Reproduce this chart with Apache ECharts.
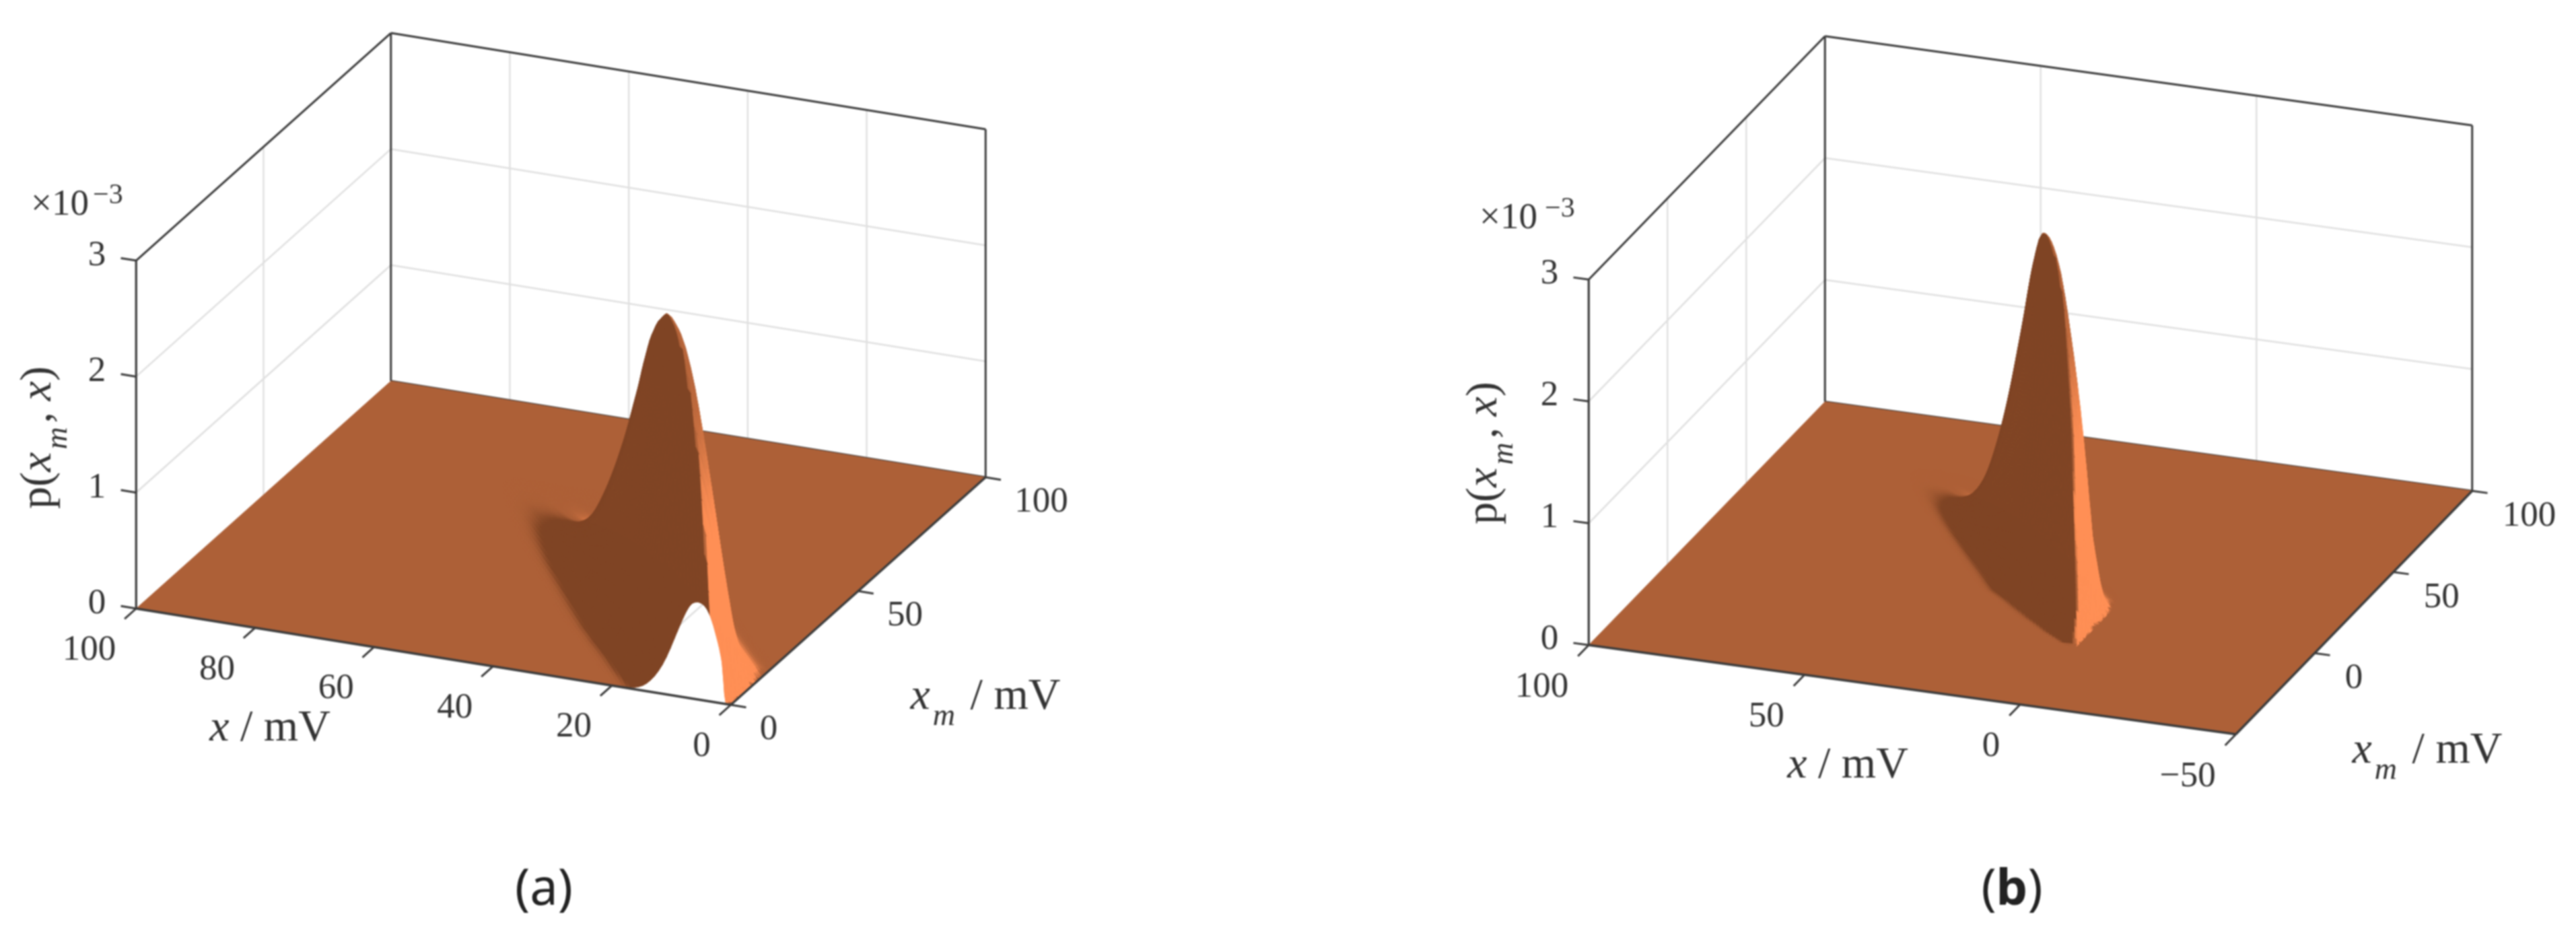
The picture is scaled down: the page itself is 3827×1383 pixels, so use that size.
<!DOCTYPE html>
<html><head><meta charset="utf-8">
<style>html,body{margin:0;padding:0;background:#fff}#main{width:3827px;height:1383px;filter:blur(1px)}</style>
<script src="https://cdn.jsdelivr.net/npm/echarts@6/dist/echarts.min.js"></script>
</head><body><div id="main"></div>
<script>
// ---- values ----
const zTicks=[0,1,2,3];
const xTicksA=[0,20,40,60,80,100];
const mTicksA=[0,50,100];
const xTicksB=[-50,0,50,100];
const mTicksB=[0,50,100];
const mGridB=[-50,0,50,100];
// offset from the ridge (mV) of each height column
const offsetsU=[-20,-18,-16,-14,-12,-10,-8,-6,-4,-3,-2,-1,0,1,2,3,4,6,8,10,12,14,16];
// panel (a): rows in x_m, ridge position in x, heights in units of 1e-3
const rowsMA=[0,2.5,5,7.5,10,12.5,15,17.5,20,22.5,25,27.5,30,35,40,45,50,55,60,65,70,75];
const ridgeXA=[5.5,7.2,9,10.9,12.8,14.8,16.9,18.9,20.9,22.8,24.7,26.6,28.5,32.3,36.2,40.1,44,48,52,56,60,64];
const heightsA=[
[0,0,0,0,0,0,0,0,.36,.58,.74,.82,.84,.82,.74,.62,.49,.25,.1,.026,.005,.0006,.00005],
[0,0,0,0,0,0,0,.3,.95,1.18,1.36,1.5,1.55,1.5,1.35,1.13,.89,.45,.16,.039,.006,.0008,.00008],
[0,0,0,0,0,0,.22,.85,1.5,1.74,1.93,2.05,2.1,2.03,1.83,1.54,1.21,.6,.22,.052,.0084,.001,.0001],
[0,0,0,0,0,.1,.5,1.15,1.8,2.07,2.3,2.45,2.5,2.42,2.18,1.83,1.44,.72,.26,.062,.01,.0012,.00012],
[0,0,0,0,.03,.22,.72,1.33,2,2.31,2.56,2.72,2.78,2.69,2.42,2.03,1.6,.8,.29,.07,.011,.0014,.00014],
[0,0,0,.006,.1,.37,.78,1.39,2.09,2.41,2.67,2.84,2.9,2.8,2.53,2.12,1.67,.84,.3,.073,.012,.0015,.00015],
[0,0,.003,.03,.14,.38,.79,1.41,2.11,2.43,2.7,2.87,2.93,2.83,2.55,2.14,1.68,.84,.31,.073,.012,.0015,.00015],
[0,.0005,.0055,.033,.14,.37,.77,1.37,2.05,2.37,2.62,2.79,2.85,2.75,2.48,2.09,1.64,.82,.3,.071,.011,.0014,.00014],
[0,.0005,.0054,.032,.135,.35,.73,1.3,1.94,2.24,2.48,2.65,2.7,2.61,2.35,1.98,1.55,.78,.28,.068,.011,.0014,.00014],
[0,.0005,.005,.03,.124,.32,.67,1.19,1.79,2.06,2.28,2.43,2.48,2.4,2.16,1.82,1.43,.71,.26,.062,.01,.0012,.00012],
[0,.0004,.0044,.027,.11,.29,.6,1.07,1.6,1.84,2.04,2.18,2.22,2.14,1.93,1.63,1.28,.64,.23,.056,.009,.0011,.00011],
[0,.0004,.0039,.024,.099,.26,.53,.95,1.42,1.64,1.81,1.93,1.97,1.9,1.72,1.44,1.13,.57,.21,.05,.008,.001,.0001],
[0,.0003,.0034,.021,.086,.22,.46,.83,1.24,1.43,1.58,1.69,1.72,1.66,1.5,1.26,.99,.5,.18,.043,.007,.0009,.00009],
[0,.0003,.0026,.015,.064,.17,.35,.61,.92,1.06,1.18,1.25,1.28,1.24,1.11,.94,.74,.37,.13,.032,.0051,.0006,.00006],
[0,.0002,.0017,.01,.043,.11,.23,.41,.62,.71,.79,.84,.86,.83,.75,.63,.49,.25,.09,.022,.0034,.0004,.00004],
[0,.0001,.001,.006,.025,.065,.135,.24,.36,.42,.46,.49,.5,.48,.44,.37,.29,.14,.053,.0125,.002,.00025,.00003],
[0,.00005,.0005,.003,.013,.034,.07,.125,.19,.22,.24,.255,.26,.25,.23,.19,.15,.075,.027,.0065,.001,.00013,.00001],
[0,0,.0002,.0013,.0055,.014,.03,.053,.079,.091,.1,.108,.11,.106,.096,.08,.063,.032,.012,.0028,.0005,.00006,0],
[0,0,.0001,.0005,.002,.0052,.011,.019,.029,.033,.037,.039,.04,.039,.035,.029,.023,.012,.0042,.001,.00016,.00002,0],
[0,0,0,.00014,.0006,.0016,.0032,.0058,.0086,.01,.011,.0118,.012,.0116,.0105,.0088,.0069,.0035,.0013,.0003,.00005,0,0],
[0,0,0,.00004,.00015,.0004,.0008,.0014,.0022,.0025,.0028,.0029,.003,.0029,.0026,.0022,.0017,.0009,.0003,.00008,.00001,0,0],
[0,0,0,0,0,0,0,0,0,0,0,0,0,0,0,0,0,0,0,0,0,0,0]];
// panel (b)
const rowsMB=[-15,-12.5,-10,-7.5,-5,-2.5,0,2.5,5,7.5,10,12.5,15,17.5,20,25,30,35,40,45,50,55,60,65,70,75];
const ridgeXB=[.5,1.5,2.5,3.6,4.7,6,7.3,9,10.8,13.1,15.7,17.6,19.4,21.2,23,26.8,30.6,34.5,38.4,42.4,46.4,50.4,54.4,58.4,62.4,66];
const heightsB=[
[0,0,0,0,0,0,0,0,0,0,0,0,0,0,0,0,0,0,0,0,0,0,0],
[0,0,0,0,0,0,0,0,0,0,0,.03,.04,.03,.012,.002,.0003,0,0,0,0,0,0],
[0,0,0,0,0,0,0,0,0,0,.07,.15,.17,.15,.09,.035,.01,.0006,.00003,0,0,0,0],
[0,0,0,0,0,0,0,0,0,.14,.3,.4,.42,.39,.29,.17,.08,.009,.0005,.00002,0,0,0],
[0,0,0,0,0,0,0,0,.12,.33,.58,.72,.75,.71,.57,.38,.22,.045,.005,.0003,.00002,0,0],
[0,0,0,0,0,0,0,0,.45,.72,.95,1.1,1.15,1.1,.93,.7,.47,.14,.025,.003,.0002,0,0],
[0,0,0,0,0,0,0,.35,.95,1.2,1.42,1.56,1.6,1.53,1.33,1.05,.75,.29,.07,.012,.0015,.0001,0],
[0,0,0,0,0,0,.2,.78,1.42,1.7,1.88,2,2.05,1.97,1.75,1.42,1.08,.48,.14,.028,.004,.0004,.00003],
[0,0,0,0,0,.08,.42,1.2,1.85,2.1,2.3,2.45,2.5,2.41,2.15,1.78,1.38,.66,.22,.05,.008,.001,.0001],
[0,0,0,0,.06,.33,.77,1.4,2.08,2.37,2.62,2.79,2.85,2.75,2.48,2.07,1.62,.8,.29,.07,.011,.0014,.00014],
[0,0,0,.03,.15,.39,.8,1.43,2.15,2.47,2.74,2.92,2.98,2.88,2.6,2.18,1.71,.86,.31,.075,.012,.0015,.00015],
[0,0,.005,.035,.147,.38,.8,1.42,2.12,2.45,2.71,2.89,2.95,2.85,2.57,2.16,1.7,.85,.31,.074,.012,.0015,.00015],
[0,.0005,.0056,.034,.14,.36,.76,1.34,2.02,2.32,2.58,2.74,2.8,2.7,2.44,2.05,1.61,.81,.29,.07,.011,.0014,.00014],
[0,.0005,.0052,.031,.13,.34,.7,1.25,1.87,2.16,2.39,2.55,2.6,2.51,2.26,1.9,1.5,.75,.27,.065,.01,.0013,.00013],
[0,.0005,.0047,.028,.118,.31,.63,1.13,1.69,1.95,2.16,2.3,2.35,2.27,2.05,1.72,1.35,.68,.25,.059,.0094,.0012,.00012],
[0,.0004,.0037,.022,.093,.24,.5,.89,1.33,1.54,1.7,1.81,1.85,1.79,1.61,1.35,1.06,.53,.19,.046,.0074,.0009,.00009],
[0,.0003,.0028,.017,.069,.18,.37,.66,.99,1.15,1.27,1.35,1.38,1.33,1.2,1.01,.79,.4,.145,.035,.0055,.0007,.00007],
[0,.0002,.0019,.011,.048,.12,.26,.46,.68,.79,.87,.93,.95,.92,.83,.7,.55,.27,.1,.024,.0038,.0005,.00005],
[0,.0001,.0012,.0072,.03,.078,.16,.29,.43,.5,.55,.59,.6,.58,.52,.44,.35,.17,.063,.015,.0024,.0003,.00003],
[0,.0001,.0007,.0041,.017,.044,.092,.163,.245,.28,.31,.33,.34,.33,.3,.25,.195,.098,.036,.0085,.0014,.00017,.00002],
[0,0,.00034,.002,.0085,.022,.046,.082,.122,.14,.156,.167,.17,.164,.148,.124,.098,.049,.018,.0043,.0007,.00009,.00001],
[0,0,.00014,.0008,.0035,.009,.019,.034,.05,.058,.064,.069,.07,.068,.061,.051,.04,.02,.0074,.0018,.0003,.00004,0],
[0,0,.00005,.0003,.0012,.0032,.0068,.012,.018,.021,.023,.0245,.025,.024,.022,.018,.014,.0072,.0026,.0006,.0001,.00001,0],
[0,0,0,.00007,.0003,.0008,.0016,.0029,.0043,.005,.0055,.0059,.006,.0058,.0052,.0044,.0035,.0017,.0006,.00015,.00002,0,0],
[0,0,0,.00001,.00005,.00013,.00027,.00048,.00072,.00083,.00092,.00098,.001,.00097,.00087,.00073,.00058,.00029,.0001,.00003,0,0,0],
[0,0,0,0,0,0,0,0,0,0,0,0,0,0,0,0,0,0,0,0,0,0,0]];

// ---- view of each 3-D box: plane coordinates per unit of x, x_m, z ----
const viewA={cx:833.25,cy:806.5,x0:50,m0:50,ux:[-8.835,-1.43],um:[3.785,-3.38],uz:-172.3,
  xMin:0,xMax:100,mMin:0,mMax:100,xTicks:xTicksA,mTicks:mTicksA,mGrid:mTicksA,rows:rowsMA,ridge:ridgeXA,h:heightsA,arch:true,floorLineX:20,
  xLab:[-30,62],mLab:[43,37],zLab:[-45,-7],
  sci:[46,305,138,291],pLab:[58,650],xName:[401,1083],mName:[1464,1036],tag:[808,1323],tagText:'{n|(}{n|a}{n|)}'};
const viewB={cx:3016.5,cy:843.75,x0:25,m0:25,ux:[-6.41,-.883],um:[2.34,-2.41],uz:-181,
  xMin:-50,xMax:100,mMin:-50,mMax:100,xTicks:xTicksB,mTicks:mTicksB,mGrid:mGridB,rows:rowsMB,ridge:ridgeXB,h:heightsB,arch:false,
  xLab:[-30,63],mLab:[45,38],zLab:[-45,-8],
  sci:[2198,325,2295,311],pLab:[2206,673],xName:[2745,1138],mName:[3606,1116],tag:[2989,1323],tagText:'{n|(}{b|b}{n|)}'};

const FLAT=[173,96,55],DARK=[127,68,36],BRIGHT=[255,143,85];
const SERIF='"Liberation Serif","DejaVu Serif",serif';
const INK='#333',FRAME='#3c3c3c',GRID='#e0e0e0';
function rgb(c){return 'rgb('+c.map(Math.round).join(',')+')';}
function proj(v,x,m,z){return [v.cx+(x-v.x0)*v.ux[0]+(m-v.m0)*v.um[0],v.cy+(x-v.x0)*v.ux[1]+(m-v.m0)*v.um[1]+z*v.uz];}
function mono(xs,ys){ // monotone drawing spline so that the mesh has no kinks
  const n=xs.length,d=[],t=new Array(n).fill(0);
  for(let i=0;i<n-1;i++)d.push((ys[i+1]-ys[i])/(xs[i+1]-xs[i]));
  for(let i=1;i<n-1;i++){if(d[i-1]*d[i]>0){const w1=2*(xs[i+1]-xs[i])+(xs[i]-xs[i-1]),w2=(xs[i+1]-xs[i])+2*(xs[i]-xs[i-1]);t[i]=(w1+w2)/(w1/d[i-1]+w2/d[i]);}}
  t[0]=d[0];t[n-1]=d[n-2];
  return q=>{let i=0;while(i<n-2&&q>xs[i+1])i++;const h=xs[i+1]-xs[i],s=(q-xs[i])/h,s2=s*s,s3=s2*s;
    return (2*s3-3*s2+1)*ys[i]+(s3-2*s2+s)*h*t[i]+(-2*s3+3*s2)*ys[i+1]+(s3-s2)*h*t[i+1];};
}
function sub(a,f){const o=[];for(let i=0;i<a.length-1;i++){const n=f(a[i+1]-a[i]);for(let k=0;k<n;k++)o.push(a[i]+(a[i+1]-a[i])*k/n);}o.push(a[a.length-1]);return o;}
function smooth(a,b,v){const t=Math.min(1,Math.max(0,(v-a)/(b-a)));return t*t*(3-2*t);}

function buildSurface(v,prims){
  const EPS=1e-6,U=offsetsU;
  const uF=sub(U,d=>d>1?3:2),mF=sub(v.rows,d=>d>2.5?6:3);
  const rowFine=v.h.map(r=>{const f=mono(U,r.map(z=>Math.log(z+EPS)));return uF.map(f);});
  const ridgeF=mono(v.rows,v.ridge);
  const grid=mF.map(()=>new Array(uF.length));
  uF.forEach((u,j)=>{const f=mono(v.rows,rowFine.map(r=>r[j]));
    mF.forEach((m,i)=>{let x=ridgeF(m)+u,z=Math.max(0,Math.exp(f(m))-EPS);if(x<=0){x=0;z=0;}grid[i][j]=[x,m,z];});});
  if(v.arch){ // opening under the raised front edge
    const pts=grid[0].filter(p=>p[2]>0).map(p=>p.slice());
    pts.unshift([pts[0][0],0,0]);pts.push([0,0,0]);
    prims.push({t:'poly',v,pts,fill:'#fff'});
    prims.push({t:'line',v,a:[v.floorLineX,22,0],b:[v.floorLineX,38,0],c:GRID,w:2.5});
  }
  for(let i=mF.length-2;i>=0;i--)for(let j=uF.length-2;j>=0;j--){
    const a=grid[i][j],b=grid[i][j+1],c=grid[i+1][j+1],d=grid[i+1][j];
    const dx1=(b[0]-a[0]+c[0]-d[0])/2;if(dx1<=1e-6)continue;
    const zx=(b[2]-a[2]+c[2]-d[2])/2/dx1,dm=d[1]-a[1],dx2=(d[0]-a[0]+c[0]-b[0])/2;
    const zm=((d[2]-a[2]+c[2]-b[2])/2-zx*dx2)/dm;
    const um=(uF[j]+uF[j+1])/2,zAvg=(a[2]+b[2]+c[2]+d[2])/4,xAvg=(a[0]+b[0]+c[0]+d[0])/4;
    // below the crest the lit flank follows the slope across the ridge only
    const w=smooth(-5,-1.2,um)*smooth(.5,2.5,xAvg);
    const s=(1-w)*1.75*zx+w*(zx-0.95*zm);
    let col=FLAT,t=0;
    if(s<0){t=smooth(.0003,.016,-s);col=DARK;}
    else{t=smooth(.0015,.04,s)*(1-.85*smooth(1.3,2.5,zAvg));col=BRIGHT;}
    if(t<.002&&Math.max(a[2],b[2],c[2],d[2])<.0005)continue;
    prims.push({t:'poly',v,pts:[a,b,c,d],fill:rgb(FLAT.map((f,k)=>f+(col[k]-f)*t))});
  }
}
function tickEnd(p,dir,len){const n=Math.hypot(dir[0],dir[1]);return [p[0]+dir[0]/n*len,p[1]+dir[1]/n*len];}
function buildPanel(v){
  const P=[],{xMin:x0,xMax:x1,mMin:m0,mMax:m1}=v;
  const L=(a,b,c,w)=>P.push({t:'line',v,a,b,c,w});
  // walls
  v.xTicks.forEach(x=>{if(x!==x0&&x!==x1)L([x,m1,0],[x,m1,3],GRID,2.5);});
  v.mGrid.forEach(m=>{if(m!==m0&&m!==m1)L([x1,m,0],[x1,m,3],GRID,2.5);});
  zTicks.forEach(z=>{if(z>0&&z<3){L([x1,m0,z],[x1,m1,z],GRID,2.5);L([x1,m1,z],[x0,m1,z],GRID,2.5);}});
  L([x1,m1,0],[x1,m1,3],FRAME,3);L([x1,m0,0],[x1,m0,3],FRAME,3.2);L([x0,m1,0],[x0,m1,3],FRAME,3);
  L([x1,m0,3],[x1,m1,3],FRAME,3);L([x1,m1,3],[x0,m1,3],FRAME,3);L([x1,m1,0],[x0,m1,0],FRAME,3);
  // floor and surface
  P.push({t:'poly',v,pts:[[x1,m0,0],[x0,m0,0],[x0,m1,0],[x1,m1,0]],fill:rgb(FLAT)});
  buildSurface(v,P);
  // front axes and ticks
  L([x1,m0,0],[x0,m0,0],FRAME,3.4);L([x0,m0,0],[x0,m1,0],FRAME,3.4);
  const neg=u=>[-u[0],-u[1]];
  v.xTicks.forEach(x=>{P.push({t:'tick',v,a:[x,m0,0],dir:neg(v.um),len:23});
    P.push({t:'label',v,a:[x,m0,0],off:v.xLab,align:'right',text:x<0?'\u2212'+(-x):String(x)});});
  v.mTicks.forEach(m=>{P.push({t:'tick',v,a:[x0,m,0],dir:neg(v.ux),len:23});
    P.push({t:'label',v,a:[x0,m,0],off:v.mLab,align:'left',text:String(m)});});
  zTicks.forEach(z=>{P.push({t:'tick',v,a:[x1,m0,z],dir:v.ux,len:23});
    P.push({t:'label',v,a:[x1,m0,z],off:v.zLab,align:'right',text:String(z)});});
  const main={fontSize:66,fontFamily:SERIF,fill:INK,lineHeight:104,verticalAlign:'middle'};
  const ital=Object.assign({},main,{fontStyle:'italic'});
  const subs={fontSize:46,fontFamily:SERIF,fontStyle:'italic',fill:INK,verticalAlign:'bottom',lineHeight:52,padding:[0,6,0,4]};
  const rich={a:main,i:ital,s:subs};
  P.push({t:'text',at:[v.sci[0],v.sci[1]],text:'\u00d710',size:55,align:'left'});
  P.push({t:'text',at:[v.sci[2],v.sci[3]],text:'\u22123',size:42,align:'left'});
  P.push({t:'text',at:v.pLab,text:'{a|p(}{i|x}{s|m}{a|, }{i|x}{a|)}',rich,rot:Math.PI/2,align:'center'});
  P.push({t:'text',at:v.xName,text:'{i|x}{a| / mV}',rich,align:'center'});
  P.push({t:'text',at:v.mName,text:'{i|x}{s|m}{a| / mV}',rich,align:'center'});
  P.push({t:'text',at:v.tag,text:v.tagText,align:'center',rich:{
    n:{fontSize:74,fontFamily:'"Noto Sans"',fill:'#222'},
    b:{fontSize:74,fontFamily:'"Noto Sans"',fontWeight:'bold',fill:'#222'}}});
  return P;
}
function makeSeries(prims){
  return {type:'custom',coordinateSystem:'cartesian2d',animation:false,progressive:0,clip:false,silent:true,
    data:prims.map((p,i)=>[i,0]),
    renderItem(params,api){
      const p=prims[params.dataIndex],pt=q=>api.coord(proj(p.v,q[0],q[1],q[2]));
      if(p.t==='poly')return {type:'polygon',shape:{points:p.pts.map(pt)},style:{fill:p.fill,stroke:p.fill,lineWidth:.8}};
      if(p.t==='line'){const a=pt(p.a),b=pt(p.b);return {type:'line',shape:{x1:a[0],y1:a[1],x2:b[0],y2:b[1]},style:{stroke:p.c,lineWidth:p.w}};}
      if(p.t==='tick'){const a=proj(p.v,p.a[0],p.a[1],p.a[2]),e=tickEnd(a,p.dir,p.len),A=api.coord(a),B=api.coord(e);
        return {type:'line',shape:{x1:A[0],y1:A[1],x2:B[0],y2:B[1]},style:{stroke:FRAME,lineWidth:3}};}
      if(p.t==='label'){const a=proj(p.v,p.a[0],p.a[1],p.a[2]),A=api.coord([a[0]+p.off[0],a[1]+p.off[1]]);
        return {type:'text',x:A[0],y:A[1],style:{text:p.text,fontFamily:SERIF,fontSize:53,fill:INK,align:p.align,verticalAlign:'middle'}};}
      const A=api.coord(p.at);
      const st={text:p.text,fontFamily:SERIF,fontSize:p.size||53,fill:INK,align:p.align,verticalAlign:'middle'};
      if(p.rich)st.rich=p.rich;
      return {type:'text',x:A[0],y:A[1],rotation:p.rot||0,style:st};
    }};
}
const chart=echarts.init(document.getElementById('main'),null,{width:3827,height:1383,renderer:'canvas'});
chart.setOption({animation:false,backgroundColor:'#fff',
  grid:{left:0,right:0,top:0,bottom:0},
  xAxis:{type:'value',min:0,max:3827,show:false},
  yAxis:{type:'value',min:0,max:1383,inverse:true,show:false},
  tooltip:{show:false},
  series:[makeSeries(buildPanel(viewA)),makeSeries(buildPanel(viewB))]});
</script></body></html>
